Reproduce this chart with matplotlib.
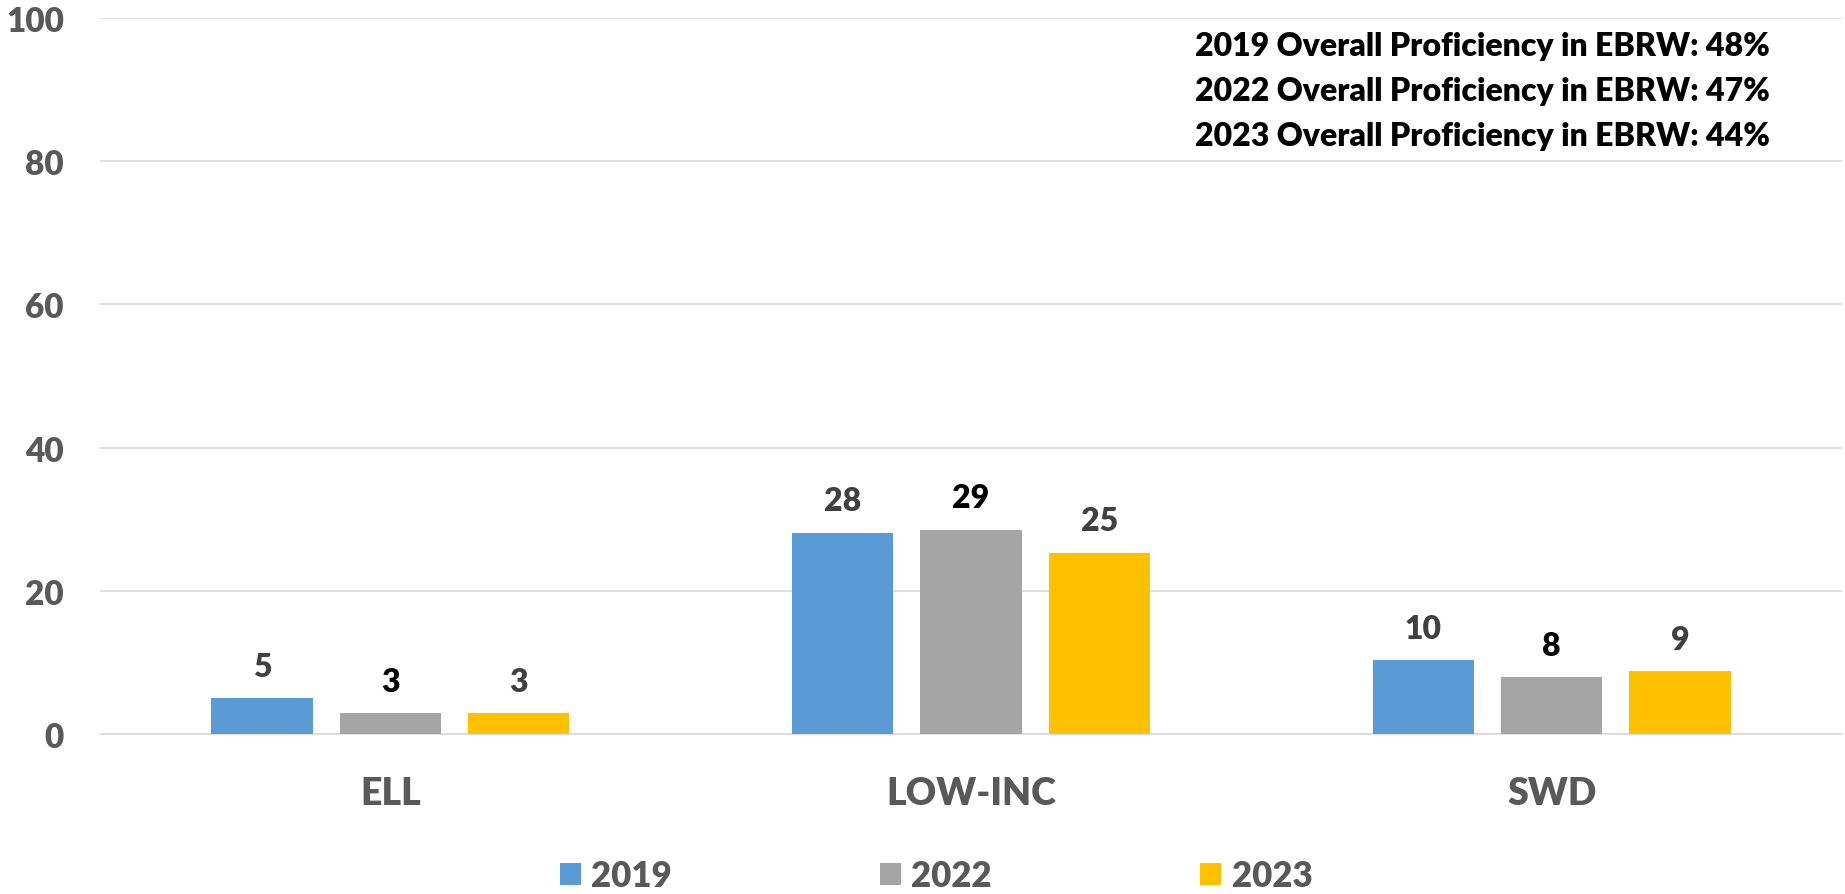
import matplotlib
matplotlib.use("Agg")
import matplotlib.pyplot as plt
import numpy as np
from matplotlib.patches import Patch

categories = ["ELL", "LOW-INC", "SWD"]
years = ["2019", "2022", "2023"]
values_2019 = [5.0, 28.1, 10.3]
values_2022 = [2.9, 28.5, 7.9]
values_2023 = [2.9, 25.3, 8.8]
labels_2019 = ["5", "28", "10"]
labels_2022 = ["3", "29", "8"]
labels_2023 = ["3", "25", "9"]
overall_lines = [
    "2019 Overall Proficiency in EBRW: 48%",
    "2022 Overall Proficiency in EBRW: 47%",
    "2023 Overall Proficiency in EBRW: 44%",
]
yticks = [0, 20, 40, 60, 80, 100]

colors = ["#5B9BD5", "#A5A5A5", "#FFC000"]
label_colors = ["#404040", "#000000", "#404040"]
series = [values_2019, values_2022, values_2023]
series_labels = [labels_2019, labels_2022, labels_2023]

plt.rcParams['font.family'] = ['Lato', 'DejaVu Sans']

fig = plt.figure(figsize=(18.45, 8.95), dpi=100)
ax = fig.add_axes([100/1845, 1-735/895, (1842-100)/1845, (735-19)/895])

x = np.arange(len(categories))
width = 0.174
pitch = 0.221
for i, (vals, labs) in enumerate(zip(series, series_labels)):
    pos = x + (i - 1) * pitch
    ax.bar(pos, vals, width=width, color=colors[i], zorder=3)
    for px, v, lab in zip(pos, vals, labs):
        ax.annotate(lab, (px, v), xytext=(0, 23), textcoords='offset points',
                    ha='center', va='center', fontsize=23, fontweight='heavy',
                    color=label_colors[i])

ax.set_xlim(-0.5, 2.5)
ax.set_ylim(0, 100)
ax.set_yticks(yticks)
ax.set_yticklabels([str(t) for t in yticks])
ax.set_xticks(x)
ax.set_xticklabels(categories)
ax.tick_params(axis='y', length=0, pad=26, labelsize=24, labelcolor='#595959')
ax.tick_params(axis='x', length=0, pad=30, labelsize=27, labelcolor='#595959')
for lab in ax.get_xticklabels() + ax.get_yticklabels():
    lab.set_fontweight('heavy')
ax.grid(axis='y', color='#D9D9D9', linewidth=1.2, zorder=0)
for s in ['top', 'right', 'left']:
    ax.spines[s].set_visible(False)
ax.spines['bottom'].set_color('#D9D9D9')
ax.spines['bottom'].set_linewidth(1.2)

baselines = [56, 101, 146]
for line, b in zip(overall_lines, baselines):
    fig.text(1195/1845, 1-b/895, line, ha='left', va='baseline',
             fontsize=23, fontweight='heavy', color='black')

handles = [Patch(facecolor=c, edgecolor='none') for c in colors]
leg = fig.legend(handles, years, loc='center', bbox_to_anchor=(936/1845, 1-877/895),
                 ncol=3, frameon=False, fontsize=25, handlelength=0.6,
                 handleheight=0.6, handletextpad=0.3, columnspacing=6.0)
for t in leg.get_texts():
    t.set_color('#595959')
    t.set_fontweight('heavy')

fig.savefig("out.png", dpi=100)
